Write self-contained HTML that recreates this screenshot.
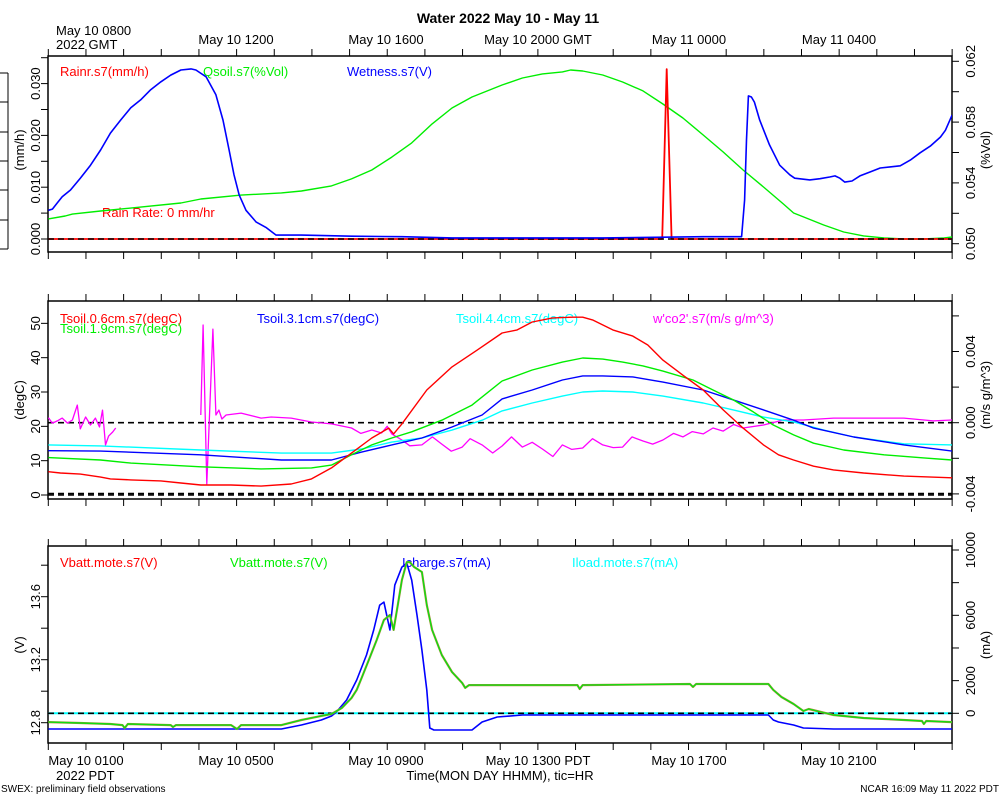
<!DOCTYPE html>
<html><head><meta charset="utf-8">
<style>
html,body{margin:0;padding:0;background:#fff;}
svg{display:block;font-family:"Liberation Sans",sans-serif;}
</style></head>
<body>
<svg id="chart" width="1000" height="800" viewBox="0 0 1000 800">
<defs>
<clipPath id="c1"><rect x="48" y="56" width="904" height="196"/></clipPath>
<clipPath id="c2"><rect x="48" y="301" width="904" height="198"/></clipPath>
<clipPath id="c3"><rect x="48" y="546" width="904" height="197"/></clipPath>
</defs>
<text x="508" y="23" text-anchor="middle" font-size="14" font-weight="bold">Water 2022 May 10 - May 11</text>
<text x="56" y="35" font-size="13">May 10 0800</text>
<text x="56" y="49" font-size="13">2022 GMT</text>
<text x="236" y="44" font-size="13" text-anchor="middle">May 10 1200</text>
<text x="386" y="44" font-size="13" text-anchor="middle">May 10 1600</text>
<text x="538" y="44" font-size="13" text-anchor="middle">May 10 2000 GMT</text>
<text x="689" y="44" font-size="13" text-anchor="middle">May 11 0000</text>
<text x="839" y="44" font-size="13" text-anchor="middle">May 11 0400</text>
<text x="86" y="765" font-size="13" text-anchor="middle">May 10 0100</text>
<text x="236" y="765" font-size="13" text-anchor="middle">May 10 0500</text>
<text x="386" y="765" font-size="13" text-anchor="middle">May 10 0900</text>
<text x="538" y="765" font-size="13" text-anchor="middle">May 10 1300 PDT</text>
<text x="689" y="765" font-size="13" text-anchor="middle">May 10 1700</text>
<text x="839" y="765" font-size="13" text-anchor="middle">May 10 2100</text>
<text x="56" y="780" font-size="13">2022 PDT</text>
<text x="500" y="780" font-size="13" text-anchor="middle">Time(MON DAY HHMM), tic=HR</text>
<text x="1" y="792" font-size="10">SWEX: preliminary field observations</text>
<text x="999" y="792" font-size="10" text-anchor="end">NCAR 16:09 May 11 2022 PDT</text>

<text x="60" y="76" font-size="13" fill="#f00">Rainr.s7(mm/h)</text>
<text x="203" y="76" font-size="13" fill="#0e0">Qsoil.s7(%Vol)</text>
<text x="347" y="76" font-size="13" fill="#00f">Wetness.s7(V)</text>
<text x="102" y="217" font-size="13" fill="#f00">Rain Rate: 0 mm/hr</text>

<text x="60" y="323" font-size="13" fill="#f00">Tsoil.0.6cm.s7(degC)</text>
<text x="60" y="333" font-size="13" fill="#0e0">Tsoil.1.9cm.s7(degC)</text>
<text x="257" y="323" font-size="13" fill="#00f">Tsoil.3.1cm.s7(degC)</text>
<text x="456" y="323" font-size="13" fill="#0ff">Tsoil.4.4cm.s7(degC)</text>
<text x="653" y="323" font-size="13" fill="#f0f">w'co2'.s7(m/s g/m^3)</text>

<text x="60" y="567" font-size="13" fill="#f00">Vbatt.mote.s7(V)</text>
<text x="230" y="567" font-size="13" fill="#0e0">Vbatt.mote.s7(V)</text>
<text x="402" y="567" font-size="13" fill="#00f">Icharge.s7(mA)</text>
<text x="572" y="567" font-size="13" fill="#0ff">Iload.mote.s7(mA)</text>
</svg>
<script>
// ---------- data (time in hours since May 10 0000 PDT) ----------
const rainT = [0, 16.3, 16.42, 16.55, 24];
const rainV = [0, 0, 0.0328, 0, 0];
const qsoilT = [0,0.45,0.64,1.39,2.45,3.52,4.05,5.12,6.19,6.72,7.52,8.05,8.59,9.12,9.65,10.19,10.72,11.25,12.05,12.59,13.12,13.65,13.87,14.19,14.72,15.25,15.79,16.32,16.85,17.39,17.92,18.45,18.99,19.52,19.79,20.05,20.59,21.12,21.65,22.19,22.72,23.25,23.79,24.0];
const qsoilV = [0.05163,0.05182,0.05195,0.05215,0.05241,0.05268,0.05294,0.05320,0.05334,0.05347,0.05380,0.05426,0.05485,0.05570,0.05663,0.05788,0.05893,0.05965,0.06044,0.06090,0.06117,0.06130,0.06143,0.06136,0.06110,0.06064,0.06005,0.05919,0.05827,0.05715,0.05603,0.05485,0.05373,0.05261,0.05202,0.05176,0.05123,0.05077,0.05051,0.05038,0.05031,0.05031,0.05038,0.05044];
const wetT = [0,0.11,0.24,0.37,0.59,0.85,1.12,1.39,1.65,1.92,2.19,2.45,2.72,2.99,3.25,3.52,3.79,3.92,4.19,4.45,4.64,4.8,4.93,5.07,5.25,5.52,5.79,6.05,6.72,8.05,9.39,10.72,12.05,14.72,17.39,18.41,18.49,18.54,18.59,18.67,18.75,18.89,19.15,19.42,19.69,19.82,20.22,20.49,20.75,20.89,21.02,21.15,21.34,21.55,21.82,22.09,22.35,22.62,22.89,23.15,23.42,23.69,23.82,24.0];
const wetV = [0.51,0.53,0.64,0.75,0.87,1.08,1.31,1.58,1.88,2.11,2.33,2.47,2.65,2.79,2.91,3.00,3.02,3.00,2.88,2.56,2.11,1.58,1.14,0.78,0.51,0.30,0.20,0.07,0.07,0.05,0.04,0.02,0.02,0.02,0.04,0.04,0.69,1.76,2.54,2.52,2.43,2.11,1.67,1.31,1.14,1.08,1.05,1.07,1.10,1.12,1.08,1.01,1.03,1.12,1.19,1.26,1.28,1.30,1.40,1.53,1.65,1.81,1.93,2.20];

const t06T = [0,0.32,0.85,1.39,1.65,2.19,2.99,3.52,4.05,4.85,5.65,6.45,6.99,7.52,8.05,8.59,9.04,9.17,9.39,10.05,10.72,11.39,12.05,12.45,12.85,13.39,13.92,14.19,14.45,14.99,15.52,15.92,16.32,16.85,17.39,17.92,18.45,18.99,19.39,19.79,20.32,20.85,21.65,22.72,24.0];
const t06V = [6.8,6.4,6.1,5.2,4.7,4.4,4.1,3.5,2.9,2.9,2.6,3.2,4.7,7.9,12.2,16.6,19.5,17.8,20.7,30.6,37.3,42.2,47.2,48.1,50.4,51.6,51.8,51.8,51.0,48.1,46.3,43.7,39.3,34.9,30.6,24.8,19.5,14.6,11.7,10.2,8.4,7.3,6.4,5.5,5.0];
const t19T = [0,1.39,2.19,4.05,5.65,6.99,7.52,8.05,8.59,9.12,9.65,10.45,11.25,12.05,12.85,13.65,14.19,14.72,15.25,15.79,16.32,17.12,17.65,18.19,18.72,19.25,19.79,20.32,21.12,22.19,23.25,24.0];
const t19V = [10.9,10.2,9.3,8.2,7.6,7.9,8.7,11.7,14.6,16.6,18.4,21.8,26.2,33.2,36.4,38.7,39.9,39.6,38.7,37.6,36.1,33.5,30.6,27.7,24.2,20.4,17.5,15.1,13.1,11.7,10.8,10.2];
const t31T = [0,1.39,4.05,6.19,7.52,8.32,9.12,9.92,10.72,11.52,12.05,12.85,13.65,14.19,14.72,15.52,16.32,17.39,18.19,18.99,19.79,20.32,21.39,22.72,24.0];
const t31V = [12.9,12.8,11.7,10.2,10.2,12.5,14.6,16.6,19.8,23.3,28.0,30.6,33.5,34.7,34.7,34.4,32.9,30.6,27.7,24.8,21.8,19.5,16.9,14.6,12.8];
const t44T = [0,1.39,4.05,6.19,7.52,8.32,9.12,9.92,10.72,11.52,12.05,12.85,13.65,14.19,14.72,15.52,16.32,17.39,18.19,18.99,19.79,20.59,21.39,22.72,24.0];
const t44V = [14.6,14.3,13.1,12.2,12.2,13.4,15.4,16.6,18.9,21.8,24.5,26.8,28.8,30.0,30.3,30.0,28.8,26.8,24.8,22.7,21.3,18.9,16.9,14.9,14.6];
const co2aT = [0,0.11,0.24,0.37,0.51,0.64,0.77,0.85,0.99,1.12,1.25,1.36,1.44,1.52,1.6,1.71,1.79];
const co2aV = [0.00028,-0.00002,0.0001,0.00026,-0.00002,0.00015,0.00099,-0.00035,0.00032,-0.00013,0.00026,-0.00024,0.00071,-0.00125,-0.00075,-0.00052,-0.0003];
const co2bT = [4.05,4.11,4.21,4.37,4.45,4.53,4.61,4.72,5.12,5.65,5.92,6.45,6.99,7.52,8.05,8.3,8.59,8.85,9.0,9.12,9.39,9.6,9.92,10.2,10.45,10.7,10.99,11.2,11.52,11.8,12.05,12.3,12.59,12.85,13.12,13.4,13.65,13.9,14.19,14.45,14.72,15.0,15.25,15.5,15.79,16.05,16.32,16.6,16.85,17.1,17.39,17.65,17.92,18.2,18.45,18.99,19.52,20.05,20.85,21.65,22.72,23.5,24.0];
const co2bV = [0.00043,0.00549,-0.00344,0.00526,0.00043,0.00071,0.00021,0.00043,0.00054,0.00026,0.00032,0.00026,0.00004,-0.00007,-0.0003,-0.0006,-0.00041,-0.00058,-0.0002,-0.00063,-0.00097,-0.0013,-0.00125,-0.0008,-0.0012,-0.0016,-0.00137,-0.0009,-0.00125,-0.0017,-0.00131,-0.0008,-0.00137,-0.0011,-0.00148,-0.0019,-0.00125,-0.0015,-0.00142,-0.0009,-0.00125,-0.0014,-0.00137,-0.0008,-0.00103,-0.0012,-0.00097,-0.0006,-0.0008,-0.0005,-0.00063,-0.0003,-0.00047,-0.0001,-0.0003,-0.00013,0.00015,0.00015,0.00026,0.00026,0.00026,0.0001,0.00015];

const vbT = [0,0.85,1.65,1.97,2.03,2.11,3.25,3.31,3.39,4.85,5.01,5.12,6.19,6.72,7.25,7.52,7.79,8.05,8.19,8.32,8.51,8.72,8.91,9.07,9.17,9.28,9.39,9.52,9.6,9.71,9.92,10.05,10.19,10.45,10.72,10.99,11.07,11.17,11.39,12.05,14.05,14.11,14.19,17.04,17.12,17.2,19.12,19.25,19.47,19.79,20.05,20.19,20.85,21.65,22.72,23.2,23.25,23.31,24.0];
const vbV = [12.804,12.798,12.792,12.785,12.766,12.792,12.785,12.773,12.785,12.785,12.76,12.785,12.785,12.817,12.843,12.855,12.893,12.957,13.008,13.084,13.198,13.325,13.452,13.484,13.389,13.547,13.706,13.82,13.82,13.789,13.757,13.547,13.389,13.23,13.122,13.052,13.021,13.039,13.039,13.039,13.039,13.014,13.039,13.046,13.027,13.046,13.046,13.008,12.963,12.919,12.874,12.887,12.849,12.83,12.817,12.811,12.792,12.811,12.804];
const icT = [0,6.19,6.72,7.25,7.52,7.65,7.92,8.19,8.45,8.64,8.8,8.91,9.07,9.2,9.39,9.52,9.65,9.79,9.92,10.05,10.13,10.24,10.99,11.25,11.52,11.92,12.59,14.72,19.12,19.25,19.39,19.79,20.05,20.85,24.0];
const icV = [-961,-961,-716,-410,-165,80,814,2038,3568,5098,6628,6812,5098,7853,8955,9200,8159,6016,3874,1426,-899,-1022,-1022,-1022,-532,-226,-104,-104,-104,-410,-532,-716,-899,-961,-961];
const iloadT = [0, 24];
const iloadV = [0, 0];

const lTicks1 = [0,0.005,0.01,0.015,0.02,0.025,0.03,0.035];
const lLabels1 = ["0.000","0.010","0.020","0.030"];
const rTicks1 = [0.050,0.052,0.054,0.056,0.058,0.060,0.062];
const rLabels1 = ["0.050","0.054","0.058","0.062"];
const lTicks2 = [0,10,20,30,40,50];
const rTicks2 = [-0.004,-0.002,0,0.002,0.004,0.006];
const rLabels2 = ["-0.004","0.000","0.004"];
const lTicks3 = [12.8,13.0,13.2,13.4,13.6,13.8];
const lLabels3 = ["12.8","13.2","13.6"];
const rTicks3 = [0,2000,4000,6000,8000,10000];
const rLabels3 = ["0","2000","6000","10000"];

// ---------- scales ----------
const X = t => 48.3 + t * 37.66;
const y1L = v => 239 - v * 5180;
const y1R = v => 243.7 - (v - 0.05) * 15200;
const y1W = v => 239 - v * 56.33;
const y2T = v => 495 - v * 3.433;
const y2C = v => 422.7 - v * 17800;
const y3V = v => 722.7 - (v - 12.8) * 157.5;
const y3I = v => 713.3 - v * 16.33 / 1000;

const svg = document.getElementById('chart');
const NS = 'http://www.w3.org/2000/svg';
function el(tag, attrs, name, parent) {
  const e = document.createElementNS(NS, tag);
  for (const k in attrs) e.setAttribute(k, attrs[k]);
  
  
  (parent || svg).appendChild(e);
  return e;
}
function series(ts, vs, ys, color, name, clip, w) {
  const d = ts.map((t, i) => (i ? 'L' : 'M') + X(t).toFixed(1) + ',' + ys(vs[i]).toFixed(1)).join('');
  const g = el('g', {'clip-path': 'url(#' + clip + ')'}, name + '-group');
  el('path', {d: d, fill: 'none', stroke: color, 'stroke-width': w || 1.4, 'stroke-linejoin': 'round'}, name, g);
}
function hline(y, name, color, dash, w) {
  el('line', {x1: 48, x2: 952, y1: y, y2: y, stroke: color, 'stroke-width': w || 1.6, 'stroke-dasharray': dash || ''}, name);
}
function panel(top, bot, name) {
  el('rect', {x: 48, y: top, width: 904, height: bot - top, fill: 'none', stroke: '#000', 'stroke-width': 1.5}, name + '-frame');
  for (let h = 0; h <= 24; h++) {
    const x = X(h);
    el('line', {x1: x, x2: x, y1: top - 7, y2: top, stroke: '#000', 'stroke-width': 1}, name + '-top-tick');
    el('line', {x1: x, x2: x, y1: bot, y2: bot + 7, stroke: '#000', 'stroke-width': 1}, name + '-bottom-tick');
  }
}
function yaxis(ticks, labels, scale, side, name) {
  ticks.forEach(v => {
    const y = scale(v);
    const x1 = side === 'L' ? 41 : 952, x2 = side === 'L' ? 48 : 959;
    el('line', {x1: x1, x2: x2, y1: y, y2: y, stroke: '#000', 'stroke-width': 1}, name + '-tick');
  });
  labels.forEach(s => {
    const y = scale(parseFloat(s));
    const x = side === 'L' ? 40 : 975;
    const t = el('text', {x: x, y: y, 'font-size': 13, 'text-anchor': 'middle', transform: 'rotate(-90 ' + x + ' ' + y + ')'}, name + '-label');
    t.textContent = s;
  });
}
function ytitle(x, y, s, name) {
  const t = el('text', {x: x, y: y, 'font-size': 13, 'text-anchor': 'middle', transform: 'rotate(-90 ' + x + ' ' + y + ')'}, name);
  t.textContent = s;
}

// ---------- panel 1 ----------
panel(56, 252, 'panel-water');
el('line', {x1: 8, x2: 8, y1: 73, y2: 249, stroke: '#000', 'stroke-width': 1}, 'extra-axis-line');
[73,102,132,161,190,220,249].forEach(y => {
  el('line', {x1: 0, x2: 8, y1: y, y2: y, stroke: '#000', 'stroke-width': 1}, 'extra-axis-tick');
});
yaxis(lTicks1, lLabels1, y1L, 'L', 'rain-axis');
yaxis(rTicks1, rLabels1, y1R, 'R', 'qsoil-axis');
ytitle(24, 150, '(mm/h)', 'rain-axis-title');
ytitle(990, 150, '(%Vol)', 'qsoil-axis-title');
series(qsoilT, qsoilV, y1R, '#0e0', 'qsoil-line', 'c1', 1.4);
series(rainT, rainV, y1L, '#f00', 'rainr-line', 'c1', 1.8);
hline(y1L(0), 'rain-zero-dashed', '#000', '6,4', 1.6);
series(wetT, wetV, y1W, '#00f', 'wetness-line', 'c1', 1.6);

// ---------- panel 2 ----------
panel(301, 499, 'panel-tsoil');
yaxis(lTicks2, lTicks2.map(String), y2T, 'L', 'tsoil-axis');
yaxis(rTicks2, rLabels2, y2C, 'R', 'co2-axis');
ytitle(24, 400, '(degC)', 'tsoil-axis-title');
ytitle(990, 395, '(m/s g/m^3)', 'co2-axis-title');
hline(y2C(0), 'co2-zero-dashed', '#000', '6,4', 1.6);
hline(y2T(0) - 1.5, 'tsoil-zero-dashed', '#000', '6,4', 1.6);
hline(y2C(-0.004) + 1, 'co2-min-dashed', '#000', '6,4', 1.6);
series(co2aT, co2aV, y2C, '#f0f', 'wco2-line-a', 'c2', 1.3);
series(co2bT, co2bV, y2C, '#f0f', 'wco2-line-b', 'c2', 1.3);
series(t44T, t44V, y2T, '#0ff', 'tsoil-4.4-line', 'c2', 1.4);
series(t31T, t31V, y2T, '#00f', 'tsoil-3.1-line', 'c2', 1.4);
series(t19T, t19V, y2T, '#0e0', 'tsoil-1.9-line', 'c2', 1.4);
series(t06T, t06V, y2T, '#f00', 'tsoil-0.6-line', 'c2', 1.4);

// ---------- panel 3 ----------
panel(546, 743, 'panel-power');
yaxis(lTicks3, lLabels3, y3V, 'L', 'volt-axis');
yaxis(rTicks3, rLabels3, y3I, 'R', 'current-axis');
ytitle(24, 645, '(V)', 'volt-axis-title');
ytitle(990, 645, '(mA)', 'current-axis-title');
series(iloadT, iloadV, y3I, '#0ff', 'iload-line', 'c3', 2);
hline(y3I(0), 'current-zero-dashed', '#000', '6,4', 1.6);
series(icT, icV, y3I, '#00f', 'icharge-line', 'c3', 1.6);
series(vbT, vbV, y3V, '#b84', 'vbatt-red-line', 'c3', 2.2);
series(vbT, vbV, y3V, '#1d1', 'vbatt-green-line', 'c3', 1.4);
</script>
</body></html>
